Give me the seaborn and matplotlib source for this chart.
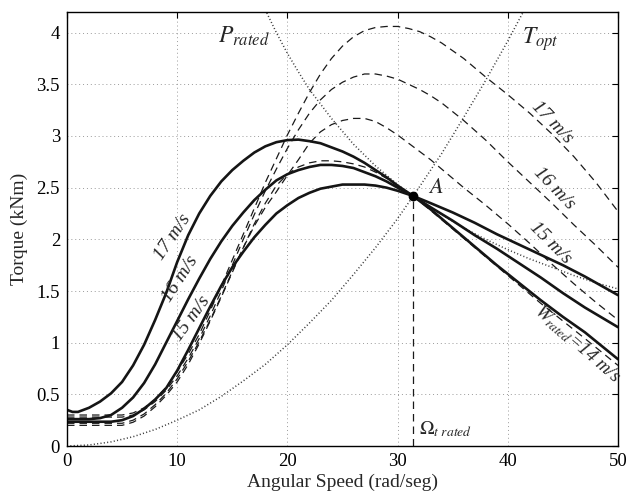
import numpy as np
import pandas as pd
import matplotlib
matplotlib.use("Agg")
import matplotlib.pyplot as plt
import seaborn as sns

# ---------------- data ----------------
# solid curves: controlled torque for 15/16/17 m/s
xs_solid = [0, 0.5, 1, 2, 3, 4, 5, 6, 7, 8, 9, 10, 11, 12, 13, 14, 15, 16, 17, 18,
            19, 20, 21, 22, 23, 24, 25, 26, 27, 28, 29, 30, 31.4, 33, 35, 37, 39,
            41, 43, 45, 47, 50]
solid_17 = [0.35, 0.33, 0.33, 0.37, 0.43, 0.51, 0.62, 0.78, 0.98, 1.22, 1.48, 1.78,
            2.04, 2.25, 2.42, 2.56, 2.67, 2.76, 2.84, 2.90, 2.94, 2.96, 2.965, 2.95,
            2.93, 2.89, 2.85, 2.80, 2.74, 2.67, 2.60, 2.52, 2.42, 2.29, 2.11, 1.93,
            1.75, 1.58, 1.41, 1.25, 1.10, 0.84]
solid_16 = [0.26, 0.26, 0.26, 0.26, 0.27, 0.30, 0.37, 0.47, 0.61, 0.79, 1.00, 1.21,
            1.42, 1.62, 1.81, 1.98, 2.13, 2.26, 2.38, 2.48, 2.57, 2.63, 2.67, 2.70,
            2.72, 2.72, 2.71, 2.69, 2.65, 2.61, 2.56, 2.50, 2.42, 2.31, 2.18, 2.04,
            1.91, 1.77, 1.63, 1.48, 1.34, 1.15]
solid_15 = [0.235, 0.235, 0.235, 0.235, 0.235, 0.235, 0.25, 0.29, 0.36, 0.45, 0.56,
            0.73, 0.93, 1.14, 1.35, 1.55, 1.73, 1.88, 2.02, 2.14, 2.25, 2.33, 2.40,
            2.45, 2.49, 2.51, 2.53, 2.53, 2.53, 2.52, 2.50, 2.47, 2.42, 2.35, 2.26,
            2.16, 2.05, 1.95, 1.85, 1.75, 1.64, 1.46]

# dashed curves: aerodynamic torque for 14..17 m/s
xs_d = [0, 5, 6, 7, 8, 9, 10, 11, 12, 13, 14, 15, 16, 17, 18, 19, 20, 21, 22, 23,
        24, 25, 26, 27, 28, 29, 30, 31, 32, 33, 34, 36, 38, 40, 42, 44, 46, 48, 50]
dash_17 = [0.30, 0.30, 0.32, 0.37, 0.45, 0.57, 0.72, 0.89, 1.08, 1.31, 1.55, 1.80,
           2.05, 2.30, 2.55, 2.78, 3.01, 3.22, 3.42, 3.60, 3.75, 3.87, 3.96, 4.02,
           4.05, 4.06, 4.06, 4.04, 4.01, 3.96, 3.90, 3.75, 3.57, 3.40, 3.22, 3.02,
           2.80, 2.55, 2.27]
dash_16 = [0.28, 0.28, 0.30, 0.35, 0.43, 0.54, 0.68, 0.85, 1.04, 1.26, 1.50, 1.75,
           2.00, 2.24, 2.47, 2.68, 2.88, 3.06, 3.22, 3.35, 3.45, 3.52, 3.57, 3.60,
           3.60, 3.58, 3.55, 3.50, 3.45, 3.39, 3.32, 3.15, 2.96, 2.75, 2.55, 2.35,
           2.14, 1.94, 1.73]
dash_15 = [0.22, 0.22, 0.25, 0.31, 0.40, 0.51, 0.65, 0.82, 1.01, 1.22, 1.45, 1.69,
           1.92, 2.13, 2.31, 2.46, 2.62, 2.77, 2.93, 3.04, 3.11, 3.15, 3.17, 3.17,
           3.14, 3.08, 3.01, 2.93, 2.85, 2.77, 2.68, 2.50, 2.33, 2.15, 1.96, 1.76,
           1.57, 1.39, 1.22]
xs_d14 = [0, 5, 6, 7, 8, 9, 10, 11, 12, 13, 14, 15, 16, 17, 18, 19, 20, 21, 22, 23,
          24, 25, 26, 27, 28, 29, 30, 31.4, 33, 35, 37, 39, 41, 43, 45, 47, 50]
dash_14 = [0.20, 0.20, 0.23, 0.29, 0.38, 0.49, 0.62, 0.79, 0.99, 1.21, 1.44, 1.68,
           1.92, 2.15, 2.35, 2.52, 2.63, 2.70, 2.74, 2.76, 2.76, 2.75, 2.73, 2.70,
           2.65, 2.59, 2.52, 2.42, 2.28, 2.10, 1.92, 1.74, 1.56, 1.38, 1.21, 1.04,
           0.78]

# dotted curves: optimal torque and rated power hyperbola
xs_topt = [0, 2, 4, 6, 8, 10, 12, 14, 16, 18, 20, 22, 24, 26, 28, 30, 32, 34, 36,
           38, 40, 42]
t_opt = [0, 0.01, 0.04, 0.09, 0.16, 0.25, 0.35, 0.48, 0.63, 0.79, 0.98, 1.19, 1.41,
         1.66, 1.92, 2.20, 2.51, 2.83, 3.18, 3.54, 3.92, 4.32]
xs_prat = [18, 19, 20, 21, 22, 24, 26, 28, 30, 32, 34, 36, 38, 40, 42, 44, 46, 48, 50]
p_rated = [4.22, 4.00, 3.80, 3.62, 3.45, 3.17, 2.92, 2.71, 2.53, 2.37, 2.24, 2.11,
           2.00, 1.90, 1.81, 1.73, 1.65, 1.58, 1.52]

point_A = (31.4, 2.42)

x_ticks = [0, 10, 20, 30, 40, 50]
y_ticks = [0, 0.5, 1, 1.5, 2, 2.5, 3, 3.5, 4]
y_tick_labels = ["0", "0.5", "1", "1.5", "2", "2.5", "3", "3.5", "4"]

# ---------------- style ----------------
sns.set_theme(style="white")
plt.rcParams['font.family'] = ['Liberation Serif', 'DejaVu Serif']
plt.rcParams['mathtext.fontset'] = 'stix'

fig = plt.figure(figsize=(6.41, 4.93), dpi=100)
ax = fig.add_axes([0.1045, 0.0953, 0.8596, 0.8804])

solid_kw = dict(color="#151515", linewidth=1.9, sort=False, estimator=None, ax=ax)
dash_kw = dict(color="#1a1a1a", linewidth=0.9, sort=False, estimator=None, ax=ax)
dot_kw = dict(color="#3a3a3a", linewidth=1.1, sort=False, estimator=None, ax=ax)

for ys in (dash_17, dash_16, dash_15):
    sns.lineplot(x=xs_d, y=ys, **dash_kw)
sns.lineplot(x=xs_d14, y=dash_14, **dash_kw)
for ln in ax.get_lines():
    ln.set_linestyle((0, (6, 4)))

n_before = len(ax.get_lines())
sns.lineplot(x=xs_topt, y=t_opt, **dot_kw)
sns.lineplot(x=xs_prat, y=p_rated, **dot_kw)
for ln in ax.get_lines()[n_before:]:
    ln.set_linestyle((0, (0.7, 1.5)))

for ys in (solid_17, solid_16, solid_15):
    sns.lineplot(x=xs_solid, y=ys, **solid_kw)

# vertical rated speed line
ax.plot([point_A[0], point_A[0]], [0, point_A[1]], color="#1a1a1a", lw=0.9,
        linestyle=(0, (6, 4)))
ax.plot([point_A[0]], [point_A[1]], 'o', color="black", markersize=6)

# ---------------- axes ----------------
ax.set_xlim(0, 50)
ax.set_ylim(0, 4.2)
ax.set_xticks(x_ticks)
ax.set_yticks(y_ticks)
ax.set_yticklabels(y_tick_labels)
ax.tick_params(direction='in', length=4.5, width=0.8, top=True, right=True,
               labelsize=13.5, colors="black", pad=5)
for sp in ax.spines.values():
    sp.set_color("black")
    sp.set_linewidth(1.0)
ax.grid(True, color="#9a9a9a", linestyle=(0, (1, 3)), linewidth=0.7)
ax.set_axisbelow(True)
ax.set_xlabel("Angular Speed (rad/seg)", fontsize=14, labelpad=3)
ax.set_ylabel("Torque (kNm)", fontsize=14, labelpad=6)

# ---------------- annotations ----------------
ax.text(13.7, 3.90, r"$P_{rated}$", fontsize=17, ha="left", va="baseline")
ax.text(41.3, 3.89, r"$T_{opt}$", fontsize=17, ha="left", va="baseline")
ax.text(32.8, 2.45, r"$A$", fontsize=16, ha="left", va="baseline")
ax.text(31.9, 0.11, r"$\Omega_{t\ rated}$", fontsize=14, ha="left", va="baseline")

lab = dict(fontsize=14, fontstyle="italic", ha="center", va="center",
           rotation_mode="anchor")
ax.text(9.6, 2.02, "17 m/s", rotation=56, **lab)
ax.text(10.3, 1.62, "16 m/s", rotation=57, **lab)
ax.text(11.3, 1.23, "15 m/s", rotation=54, **lab)
ax.text(44.0, 3.13, "17 m/s", rotation=-46, **lab)
ax.text(44.2, 2.49, "16 m/s", rotation=-46, **lab)
ax.text(43.85, 1.96, "15 m/s", rotation=-45, **lab)
lab_w = dict(lab, fontsize=13.5)
ax.text(46.3, 0.99, r"$W_{rated}$=14 m/s", rotation=-41, **lab_w)

fig.savefig("out.png", dpi=100)
